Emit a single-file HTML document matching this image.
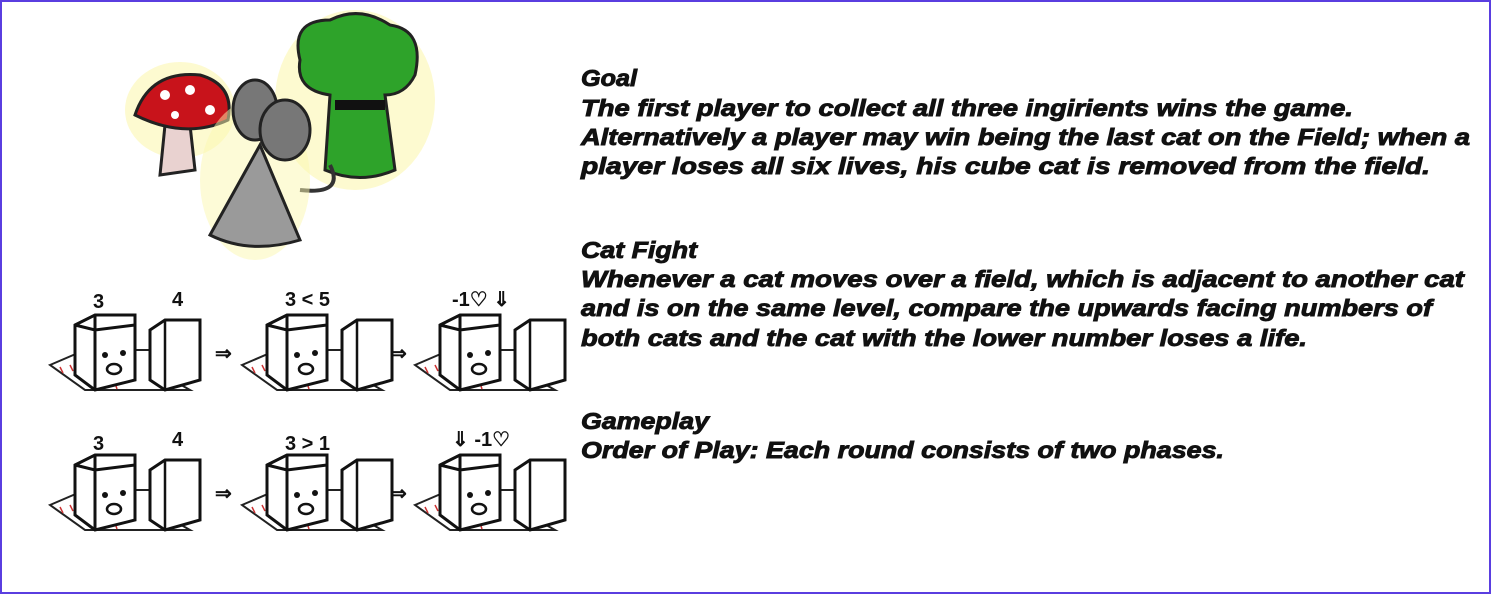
<!DOCTYPE html>
<html><head><meta charset="utf-8"><style>
html,body{margin:0;padding:0;background:#fff}
#page{position:relative;width:1487px;height:590px;border:2px solid #5a3ee0;overflow:hidden;background:#fff}
svg{position:absolute;left:0;top:0}
.t{font-family:"Liberation Sans",sans-serif;font-weight:bold;font-style:italic;font-size:23px;fill:#111;stroke:#111;stroke-width:0.9}
.n{font-family:"Liberation Sans",sans-serif;font-weight:bold;font-size:20px;fill:#111}
</style></head><body>
<div id="page">
<svg width="1487" height="590" viewBox="2 2 1487 590">
<defs>
<g id="cats">
  <path d="M10 70 L45 55 L150 55 L115 75 L150 95 L45 95 Z" fill="none" stroke="#222" stroke-width="2"/>
  <path d="M20 72 l3 6 M30 70 l3 6 M60 88 l2 6 M75 88 l2 6 M120 88 l2 6" stroke="#c33" stroke-width="1.5"/>
  <path d="M35 30 L55 20 L95 20 L95 85 L55 95 L35 80 Z" fill="#fff" stroke="#111" stroke-width="3"/>
  <path d="M55 20 L55 95 M35 30 L55 35 L95 30" fill="none" stroke="#111" stroke-width="3"/>
  <circle cx="65" cy="60" r="3" fill="#111"/><circle cx="83" cy="58" r="3" fill="#111"/>
  <ellipse cx="74" cy="74" rx="7" ry="5" fill="none" stroke="#111" stroke-width="2.5"/>
  <path d="M110 35 L125 25 L160 25 L160 85 L125 95 L110 85 Z" fill="#fff" stroke="#111" stroke-width="3"/>
  <path d="M125 25 L125 95" stroke="#111" stroke-width="2.5"/>
</g>
</defs>
<g>
  <ellipse cx="180" cy="110" rx="55" ry="48" fill="#fbf7b0" opacity="0.6"/>
  <path d="M165 125 L190 125 L195 170 L160 175 Z" fill="#e9d2d0" stroke="#222" stroke-width="3"/>
  <path d="M135 115 Q150 70 200 75 Q235 85 228 120 Q185 140 135 115 Z" fill="#c8131b" stroke="#222" stroke-width="3"/>
  <circle cx="165" cy="95" r="5" fill="#fff"/><circle cx="190" cy="90" r="5" fill="#fff"/><circle cx="210" cy="110" r="5" fill="#fff"/><circle cx="175" cy="115" r="4" fill="#fff"/>
</g>
<g>
  <ellipse cx="355" cy="100" rx="80" ry="90" fill="#fbf7b0" opacity="0.6"/>
  <path d="M300 60 Q290 20 330 20 Q360 5 390 25 Q425 30 415 75 Q405 95 385 95 L395 170 Q360 185 325 170 L330 95 Q295 90 300 60 Z" fill="#2ea32a" stroke="#222" stroke-width="3"/>
  <rect x="335" y="100" width="50" height="10" fill="#111"/>
  <path d="M330 165 Q345 195 300 190" fill="none" stroke="#333" stroke-width="4"/>
</g>
<g>
  <ellipse cx="255" cy="180" rx="55" ry="80" fill="#fbf7b0" opacity="0.5"/>
  <ellipse cx="255" cy="110" rx="22" ry="30" fill="#777" stroke="#222" stroke-width="3"/>
  <ellipse cx="285" cy="130" rx="25" ry="30" fill="#777" stroke="#222" stroke-width="3"/>
  <path d="M260 145 L210 235 Q250 255 300 240 Z" fill="#9a9a9a" stroke="#222" stroke-width="3"/>
</g>
<g>
  <use href="#cats" x="40" y="295"/><use href="#cats" x="232" y="295"/><use href="#cats" x="405" y="295"/>
  <text class="n" x="93" y="308">3</text><text class="n" x="172" y="306">4</text>
  <text class="n" x="285" y="306">3 &lt; 5</text><text class="n" x="452" y="306">-1♡ ⇓</text>
  <text class="n" x="215" y="360">⇒</text><text class="n" x="390" y="360">⇒</text>
</g>
<g>
  <use href="#cats" x="40" y="435"/><use href="#cats" x="232" y="435"/><use href="#cats" x="405" y="435"/>
  <text class="n" x="93" y="450">3</text><text class="n" x="172" y="446">4</text>
  <text class="n" x="285" y="450">3 &gt; 1</text><text class="n" x="452" y="446">⇓ -1♡</text>
  <text class="n" x="215" y="500">⇒</text><text class="n" x="390" y="500">⇒</text>
</g>
<g>
<text class="t" x="581" y="86" textLength="56" lengthAdjust="spacingAndGlyphs">Goal</text>
<text class="t" x="581" y="116" textLength="772" lengthAdjust="spacingAndGlyphs">The first player to collect all three ingirients wins the game.</text>
<text class="t" x="581" y="145" textLength="889" lengthAdjust="spacingAndGlyphs">Alternatively a player may win being the last cat on the Field; when a</text>
<text class="t" x="581" y="174" textLength="849" lengthAdjust="spacingAndGlyphs">player loses all  six  lives, his cube cat is removed from the field.</text>
<text class="t" x="581" y="258" textLength="116" lengthAdjust="spacingAndGlyphs">Cat Fight</text>
<text class="t" x="581" y="287" textLength="883" lengthAdjust="spacingAndGlyphs">Whenever a cat moves over a field, which is adjacent to another cat</text>
<text class="t" x="581" y="316" textLength="851" lengthAdjust="spacingAndGlyphs">and is on the same level, compare the upwards facing numbers of</text>
<text class="t" x="581" y="346" textLength="726" lengthAdjust="spacingAndGlyphs">both cats and the cat with the lower number loses a life.</text>
<text class="t" x="581" y="429" textLength="128" lengthAdjust="spacingAndGlyphs">Gameplay</text>
<text class="t" x="581" y="458" textLength="643" lengthAdjust="spacingAndGlyphs">Order of Play: Each round consists of  two phases.</text>
</g>
</svg>
</div>
</body></html>
